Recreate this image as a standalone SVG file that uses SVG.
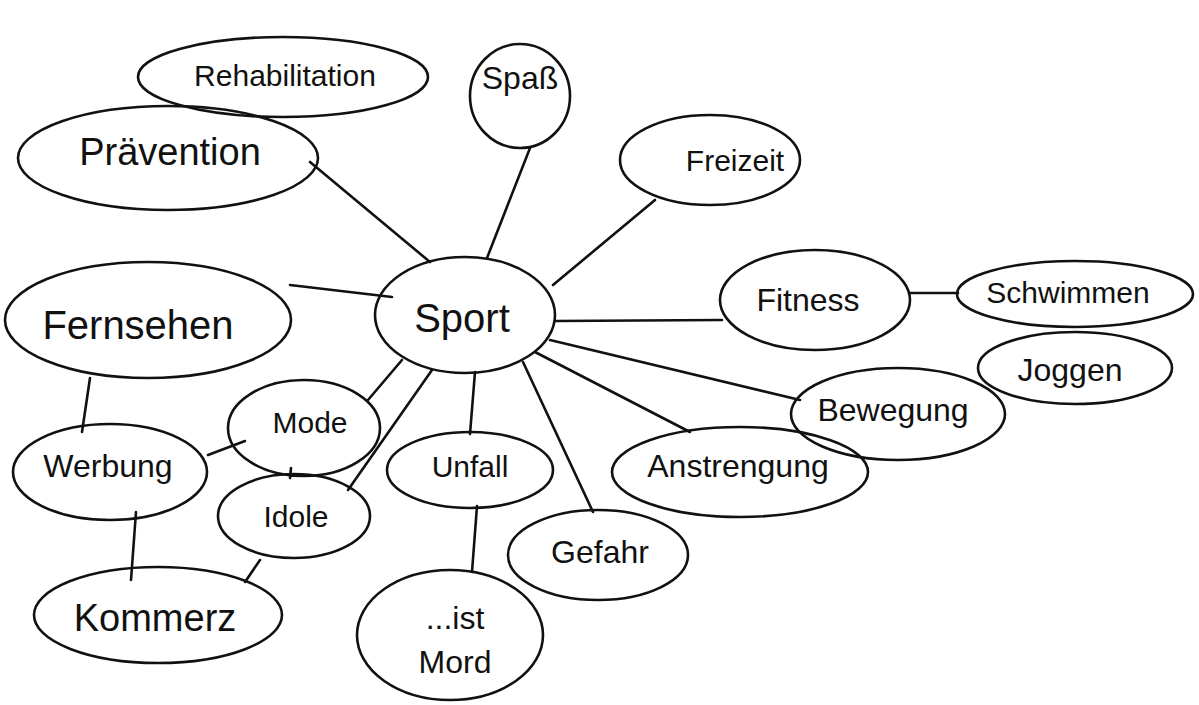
<svg xmlns="http://www.w3.org/2000/svg" width="1199" height="705" viewBox="0 0 1199 705">
<style>
.n{fill:none;stroke:#111;stroke-width:2.6}
.c{stroke:#111;stroke-width:2.6;fill:none;stroke-linecap:round}
text{font-family:"Liberation Sans","DejaVu Sans",sans-serif;fill:#111;text-anchor:middle;dominant-baseline:central}
</style>
<rect width="1199" height="705" fill="#fff"/>
<g id="connectors">
<line class="c" x1="310" y1="162" x2="430" y2="262"/>
<line class="c" x1="530" y1="148" x2="487" y2="258"/>
<line class="c" x1="655" y1="200" x2="553" y2="285"/>
<line class="c" x1="290" y1="285" x2="392" y2="297"/>
<line class="c" x1="555" y1="321" x2="722" y2="320"/>
<line class="c" x1="910" y1="293" x2="958" y2="293"/>
<line class="c" x1="550" y1="340" x2="800" y2="400"/>
<line class="c" x1="535" y1="352" x2="690" y2="432"/>
<line class="c" x1="523" y1="362" x2="593" y2="512"/>
<line class="c" x1="475" y1="372" x2="470" y2="434"/>
<line class="c" x1="477" y1="506" x2="472" y2="572"/>
<line class="c" x1="432" y1="370" x2="348" y2="490"/>
<line class="c" x1="402" y1="360" x2="368" y2="400"/>
<line class="c" x1="208" y1="455" x2="245" y2="441"/>
<line class="c" x1="90" y1="378" x2="82" y2="432"/>
<line class="c" x1="136" y1="512" x2="131" y2="580"/>
<line class="c" x1="260" y1="560" x2="245" y2="582"/>
<line class="c" x1="291" y1="468" x2="290" y2="478"/>
</g>
<g id="rehabilitation"><ellipse class="n" cx="283" cy="77" rx="145" ry="40"/><text x="285" y="75" font-size="30">Rehabilitation</text></g>
<g id="spass"><ellipse class="n" cx="520" cy="96" rx="50" ry="52"/><text x="520" y="78" font-size="32">Spaß</text></g>
<g id="praevention"><ellipse class="n" cx="168" cy="158" rx="150" ry="52"/><text x="170" y="152" font-size="38">Prävention</text></g>
<g id="freizeit"><ellipse class="n" cx="710" cy="160" rx="90" ry="45"/><text x="735" y="160" font-size="30">Freizeit</text></g>
<g id="sport"><ellipse class="n" cx="465" cy="315" rx="90" ry="58"/><text x="462" y="318" font-size="40">Sport</text></g>
<g id="fernsehen"><ellipse class="n" cx="148" cy="320" rx="143" ry="58"/><text x="138" y="325" font-size="40">Fernsehen</text></g>
<g id="fitness"><ellipse class="n" cx="815" cy="300" rx="95" ry="50"/><text x="808" y="300" font-size="32">Fitness</text></g>
<g id="schwimmen"><ellipse class="n" cx="1075" cy="294" rx="118" ry="33"/><text x="1068" y="292" font-size="30">Schwimmen</text></g>
<g id="joggen"><ellipse class="n" cx="1075" cy="368" rx="97" ry="36"/><text x="1070" y="370" font-size="32">Joggen</text></g>
<g id="bewegung"><ellipse class="n" cx="898" cy="414" rx="107" ry="46"/><text x="893" y="410" font-size="32">Bewegung</text></g>
<g id="mode"><ellipse class="n" cx="304" cy="428" rx="76" ry="48"/><text x="310" y="422" font-size="30">Mode</text></g>
<g id="werbung"><ellipse class="n" cx="110" cy="472" rx="97" ry="48"/><text x="108" y="466" font-size="32">Werbung</text></g>
<g id="idole"><ellipse class="n" cx="294" cy="516" rx="76" ry="42"/><text x="296" y="516" font-size="30">Idole</text></g>
<g id="unfall"><ellipse class="n" cx="470" cy="470" rx="83" ry="38"/><text x="470" y="466" font-size="30">Unfall</text></g>
<g id="anstrengung"><ellipse class="n" cx="740" cy="472" rx="128" ry="45"/><text x="738" y="466" font-size="32">Anstrengung</text></g>
<g id="gefahr"><ellipse class="n" cx="598" cy="555" rx="90" ry="45"/><text x="600" y="552" font-size="32">Gefahr</text></g>
<g id="kommerz"><ellipse class="n" cx="158" cy="615" rx="124" ry="48"/><text x="155" y="618" font-size="38">Kommerz</text></g>
<g id="istmord"><ellipse class="n" cx="450" cy="635" rx="93" ry="65"/><text x="455" y="618" font-size="32">...ist</text><text x="455" y="662" font-size="32">Mord</text></g>
</svg>
